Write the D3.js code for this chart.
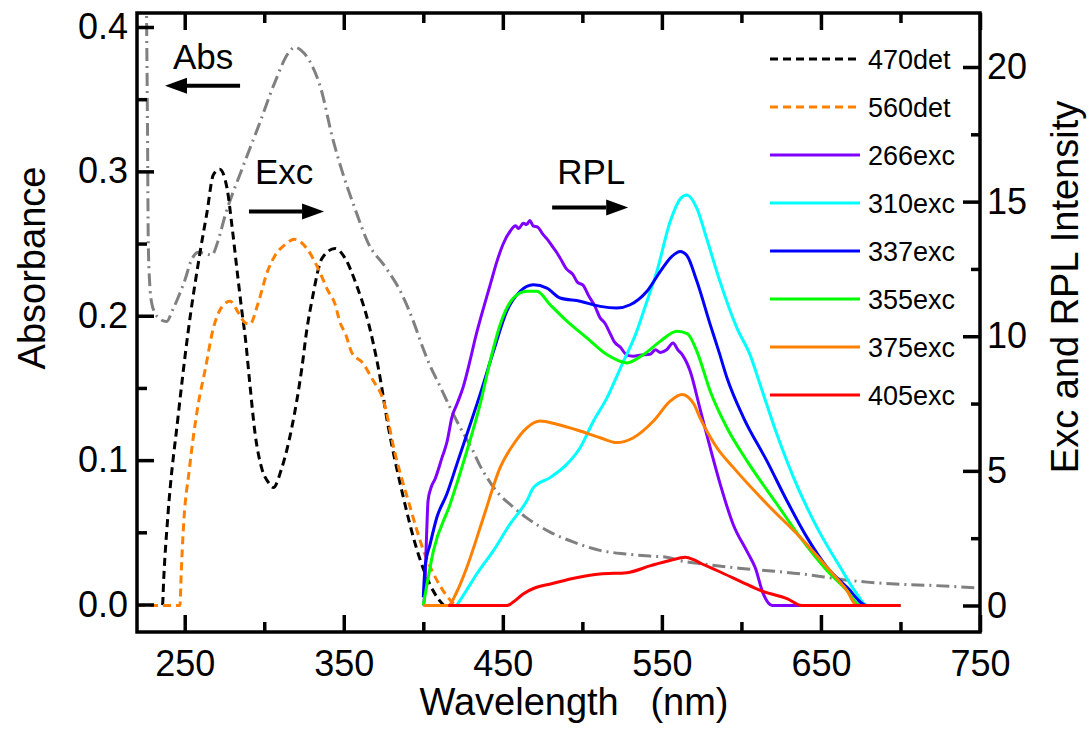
<!DOCTYPE html>
<html>
<head>
<meta charset="utf-8">
<script src="https://cdn.jsdelivr.net/npm/d3@7/dist/d3.min.js"></script>
<style>
	body { margin: 0; background: #fff; }
	svg text { font-family: "Liberation Sans", Arial, Helvetica, sans-serif; fill: #000; }
</style>
</head>
<body>
<div id="chart"></div>
<script>
// axis ticks
const wlMajor = [250, 350, 450, 550, 650, 750];
const wlMinor = [300, 400, 500, 600, 700];
const absMajor = [0, 0.1, 0.2, 0.3, 0.4];
const absMinor = [0.05, 0.15, 0.25, 0.35];
const intMajor = [0, 5, 10, 15, 20];
const intMinor = [2.5, 7.5, 12.5, 17.5];

// absorbance (left axis) [wavelength nm, absorbance]
const absorbance = [
	[225.9,0.42],[226.6,0.33],[227.1,0.25],[228,0.222],[229.2,0.209],[231.3,0.202],[234,0.198],[238.7,0.196],
	[242,0.203],[246,0.213],[250.2,0.225],[254,0.238],[258.6,0.244],[263,0.243],[267,0.242],[271,0.252],
	[275.3,0.269],[285.8,0.301],[296.3,0.331],[306.8,0.362],[315.2,0.382],[319.4,0.386],[323,0.384],
	[327.7,0.378],[336.2,0.355],[342.5,0.325],[348.7,0.301],[357.1,0.274],[365.5,0.25],[376,0.234],
	[386.5,0.215],[394.8,0.193],[398,0.183],[404,0.166],[410.6,0.151],[417,0.136],[423,0.123],[431,0.107],
	[435.7,0.096],[440,0.088],[446.4,0.078],[456,0.068],[465,0.06],[480,0.05],[495,0.043],[511,0.0375],
	[527,0.035],[543,0.0335],[553,0.0328],[563,0.030],[574,0.0283],[600,0.025],[637,0.0213],[668,0.0167],
	[679,0.0155],[700,0.014],[720,0.0132],[750,0.0114]
];

// excitation spectra (right axis) [wavelength nm, intensity]
const det470 = [
	[220,0],[236,0],[236.8,1.0],[239.5,3.4],[245.8,7.0],[252,10.1],[259.6,13.1],[264,14.6],[268,16.0],
	[272,16.2],[276.6,15.5],[279.7,14.1],[283,12.4],[286,10.9],[288,10.0],[291,8.2],[294.2,6.4],[298.4,5.1],
	[302.6,4.57],[305.7,4.38],[311,5.1],[317.3,6.6],[323.6,8.8],[326.9,10.3],[329.9,11.3],[336.4,12.9],
	[344.5,13.26],[350.8,12.9],[358,11.9],[365.5,10.5],[371.8,8.8],[378.1,6.6],[386.5,4.26],[396.9,1.9],
	[404,0.8],[410,0.2],[413,0]
];
const det560 = [
	[220,0],[247,0],[247.8,1.2],[249,2.7],[253,5.1],[258,7.3],[263,8.8],[268,10.3],[273.5,11.1],[278.5,11.3],
	[283.5,10.9],[288,10.5],[291,10.45],[296,11.2],[302,12.4],[306.8,13.0],[313,13.4],[319,13.6],[327.5,13.2],
	[334,12.5],[340,11.7],[344.5,11.2],[347.7,10.5],[351,10.1],[355,9.4],[362,9.0],[368,8.4],[375,7.6],
	[382,5.7],[390.5,3.9],[401,1.9],[408,1.0],[413.7,0.44],[420,0]
];

// RPL emission spectra (right axis) [wavelength nm, intensity]
const exc266 = [
	[400,0],[400.8,0.4],[402,2.5],[403,3.9],[405,4.4],[407.4,4.7],[411.8,5.5],[415,6.1],[418,7.0],[421.3,7.5],
	[425,8.1],[429.4,9.1],[433,10.0],[437.6,11.0],[442,11.9],[446.4,12.8],[450,13.4],[454.6,13.9],[458,14.1],
	[460,14.0],[462.8,14.2],[465,14.15],[467,14.3],[469,14.1],[472,14.05],[475,13.8],[478,13.6],[481.6,13.3],
	[484,13.1],[487,12.8],[490,12.5],[494,12.3],[497,12.0],[500.4,11.9],[504,11.5],[508,11.1],[511,10.7],
	[514,10.5],[517.5,10.1],[520,9.8],[523.8,9.6],[528,9.3],[532,9.26],[537,9.3],[542.6,9.33],[546,9.5],
	[549,9.4],[553,9.5],[557,9.75],[560,9.5],[563,9.3],[567.8,8.7],[574,7.3],[580.4,5.85],[586.7,4.5],
	[594.9,3.0],[603.6,2.0],[608.7,1.4],[613.7,0.44],[619.4,0],[700,0]
];
const exc310 = [
	[421,0],[427,0.55],[433.6,1.17],[444.1,2.04],[454.6,3.03],[465.1,3.89],[469.3,4.38],[479.7,4.75],
	[490.3,5.25],[498.6,5.86],[507,6.85],[515.4,7.7],[523.8,8.8],[534.3,10.2],[540.6,11.3],[546.8,12.4],
	[555.2,14.26],[561.5,15.1],[565.7,15.25],[572,14.75],[578.3,13.6],[586.7,12.0],[597.2,10.3],[605.5,9.3],
	[611.8,8.2],[622.3,6.36],[632.8,4.75],[647.5,2.9],[662.1,1.42],[672.6,0.43],[678.9,0],[700,0]
];
const exc337 = [
	[400,0.3],[401.1,1.42],[404.3,2.28],[408.5,3.27],[414.8,4.14],[421.1,5.25],[427.4,6.36],[435.7,7.84],
	[444.1,9.44],[452.5,10.93],[460.9,11.67],[469.2,11.91],[477.7,11.79],[486,11.42],[498.6,11.3],
	[511.2,11.11],[521.7,11.05],[530.1,11.17],[540.6,11.67],[548.9,12.4],[556,12.95],[561.5,13.15],
	[565.7,13.0],[572,12.04],[580.4,10.43],[586,9.4],[590.9,8.46],[601.3,6.98],[616,5.37],[628.6,3.89],
	[641.2,2.53],[653.8,1.42],[666.3,0.68],[678.9,0],[700,0]
];
const exc355 = [
	[400,0],[406.4,2.04],[416.9,3.77],[427.4,5.74],[435.7,7.47],[442,9.07],[448.3,10.43],[456.7,11.42],
	[465.1,11.67],[471.4,11.67],[479.7,11.17],[490.3,10.56],[502.8,9.94],[515.4,9.32],[528,9.01],[538.4,9.32],
	[548.9,9.81],[559.4,10.19],[566,10.1],[572,9.44],[580.4,7.96],[590.9,6.6],[603.5,5.37],[622.3,3.77],
	[637,2.53],[653.8,1.3],[666.3,0.56],[674.7,0],[700,0]
];
const exc375 = [
	[400,0],[415.7,0],[421,0.5],[427.4,1.42],[437.8,3.27],[448.3,5.12],[456.7,5.99],[465.1,6.6],[473.5,6.85],
	[484,6.73],[498.6,6.48],[511.2,6.23],[521.7,6.05],[532.1,6.23],[544.7,6.85],[555.2,7.59],[562.6,7.84],
	[569.9,7.5],[574,6.97],[584.6,5.86],[595,5.12],[616,3.77],[637,2.53],[653.8,1.42],[666.3,0.56],
	[672.6,0],[700,0]
];
const exc405 = [
	[415.7,0],[452.7,0],[457,0.15],[463,0.44],[470,0.65],[480,0.8],[497,1.04],[511,1.17],[528,1.22],
	[543,1.48],[555,1.67],[564.7,1.79],[570,1.7],[575,1.55],[584.6,1.3],[600,0.88],[611.8,0.56],[629,0.25],
	[638,0],[700,0]
];

const seriesNames = ["470det", "560det", "266exc", "310exc", "337exc", "355exc", "375exc", "405exc"];
const seriesData = [det470, det560, exc266, exc310, exc337, exc355, exc375, exc405];

const seriesStyle = {
	"470det": { color: "#000000", dash: "8,5" },
	"560det": { color: "#ff8000", dash: "8,5" },
	"266exc": { color: "#8000ff", dash: null },
	"310exc": { color: "#00ffff", dash: null },
	"337exc": { color: "#0000ff", dash: null },
	"355exc": { color: "#00ff00", dash: null },
	"375exc": { color: "#ff8000", dash: null },
	"405exc": { color: "#ff0000", dash: null }
};

class SpectraChart {
	constructor(id) {
		this.w = 1090;
		this.h = 730;
		this.box = { left: 137, right: 980, top: 13, bottom: 632 };

		this.svg = d3.select(id)
			.append("svg")
			.attr("width", this.w)
			.attr("height", this.h);

		this.x = d3.scaleLinear().domain([220, 750]).range([this.box.left, this.box.right]);
		this.yAbs = d3.scaleLinear().domain([0, 0.4]).range([604.5, 27]);
		this.yInt = d3.scaleLinear().domain([0, 20]).range([605.5, 67]);

		this.svg.append("defs")
			.append("clipPath")
			.attr("id", "plot-clip")
			.append("rect")
			.attr("x", this.box.left)
			.attr("y", this.box.top)
			.attr("width", this.box.right - this.box.left)
			.attr("height", this.box.bottom - this.box.top);
	}

	render() {
		this.drawCurves();
		this.drawAxes();
		this.drawLegend();
		this.drawNotes();
	}

	drawCurves() {
		let g = this.svg.append("g").attr("clip-path", "url(#plot-clip)");

		let absLine = d3.line()
			.x((d) => { return this.x(d[0]); })
			.y((d) => { return this.yAbs(d[1]); })
			.curve(d3.curveMonotoneX);

		g.append("path")
			.attr("d", absLine(absorbance))
			.attr("fill", "none")
			.attr("stroke", "#808080")
			.attr("stroke-width", 3)
			.attr("stroke-dasharray", "13,5,2,5");

		let intLine = d3.line()
			.x((d) => { return this.x(d[0]); })
			.y((d) => { return this.yInt(d[1]); })
			.curve(d3.curveMonotoneX);

		g.selectAll("path.spectrum")
			.data(seriesNames)
			.enter()
			.append("path")
			.attr("class", "spectrum")
			.attr("d", (d, i) => { return intLine(seriesData[i]); })
			.attr("fill", "none")
			.attr("stroke", (d) => { return seriesStyle[d].color; })
			.attr("stroke-width", 3)
			.attr("stroke-linejoin", "round")
			.attr("stroke-dasharray", (d) => { return seriesStyle[d].dash; });
	}

	drawAxes() {
		let b = this.box;
		let fontSize = 36;

		// major + minor ticks, all pointing inward
		let addAxis = (axis, tx, ty, major) => {
			let g = this.svg.append("g")
				.attr("transform", "translate(" + tx + "," + ty + ")")
				.call(axis);
			g.select(".domain").remove();
			g.selectAll(".tick line")
				.attr("stroke", "#000")
				.attr("stroke-width", 3.5);
			g.selectAll(".tick text")
				.attr("font-size", major ? fontSize : 0)
				.attr("fill", "#000")
				.style("font-family", "'Liberation Sans', Arial, sans-serif");
			return g;
		};

		addAxis(d3.axisBottom(this.x).tickValues(wlMajor).tickSizeInner(-17).tickSizeOuter(0).tickPadding(18).tickFormat(d3.format("d")), 0, b.bottom, true);
		addAxis(d3.axisBottom(this.x).tickValues(wlMinor).tickSizeInner(-10).tickSizeOuter(0).tickFormat(""), 0, b.bottom, false);
		addAxis(d3.axisTop(this.x).tickValues(wlMajor).tickSizeInner(-17).tickSizeOuter(0).tickFormat(""), 0, b.top, false);
		addAxis(d3.axisTop(this.x).tickValues(wlMinor).tickSizeInner(-10).tickSizeOuter(0).tickFormat(""), 0, b.top, false);

		addAxis(d3.axisLeft(this.yAbs).tickValues(absMajor).tickSizeInner(-17).tickSizeOuter(0).tickPadding(9).tickFormat(d3.format(".1f")), b.left, 0, true);
		addAxis(d3.axisLeft(this.yAbs).tickValues(absMinor).tickSizeInner(-10).tickSizeOuter(0).tickFormat(""), b.left, 0, false);

		addAxis(d3.axisRight(this.yInt).tickValues(intMajor).tickSizeInner(-17).tickSizeOuter(0).tickPadding(7).tickFormat(d3.format("d")), b.right, 0, true);
		addAxis(d3.axisRight(this.yInt).tickValues(intMinor).tickSizeInner(-9).tickSizeOuter(0).tickFormat(""), b.right, 0, false);

		this.svg.append("rect")
			.attr("x", b.left)
			.attr("y", b.top)
			.attr("width", b.right - b.left)
			.attr("height", b.bottom - b.top)
			.attr("fill", "none")
			.attr("stroke", "#000")
			.attr("stroke-width", 3.5);

		this.svg.append("text")
			.attr("x", 574)
			.attr("y", 715)
			.attr("text-anchor", "middle")
			.attr("font-size", 38)
			.style("white-space", "pre")
			.text("Wavelength   (nm)");

		this.svg.append("text")
			.attr("transform", "translate(45,268) rotate(-90)")
			.attr("text-anchor", "middle")
			.attr("font-size", 38)
			.text("Absorbance");

		this.svg.append("text")
			.attr("transform", "translate(1078,287) rotate(-90)")
			.attr("text-anchor", "middle")
			.attr("font-size", 38)
			.text("Exc and RPL Intensity");
	}

	drawLegend() {
		let rows = this.svg.append("g")
			.selectAll("g")
			.data(seriesNames)
			.enter()
			.append("g")
			.attr("transform", (d, i) => { return "translate(770," + (59 + i * 48) + ")"; });

		rows.append("line")
			.attr("x1", 0)
			.attr("x2", 90)
			.attr("stroke", (d) => { return seriesStyle[d].color; })
			.attr("stroke-width", 3)
			.attr("stroke-dasharray", (d) => { return seriesStyle[d].dash; });

		rows.append("text")
			.attr("x", 98)
			.attr("y", 10)
			.attr("font-size", 27)
			.text((d) => { return d; });
	}

	drawNotes() {
		// label + arrow, placed in wavelength / intensity units
		let notes = [
			{ label: "Abs", tx: 242.6, ty: 19.93, from: 284.8, to: 237.6, ay: 19.3 },
			{ label: "Exc", tx: 294.2, ty: 15.67, from: 290.4, to: 337.6, ay: 14.63 },
			{ label: "RPL", tx: 484.2, ty: 15.67, from: 481, to: 528.8, ay: 14.78 }
		];

		notes.forEach((n) => {
			this.svg.append("text")
				.attr("x", this.x(n.tx))
				.attr("y", this.yInt(n.ty))
				.attr("font-size", 35)
				.text(n.label);

			let x0 = this.x(n.from), x1 = this.x(n.to), y = this.yInt(n.ay);
			let dir = x1 > x0 ? 1 : -1;
			let headLen = 22;

			this.svg.append("line")
				.attr("x1", x0)
				.attr("x2", x1 - dir * headLen)
				.attr("y1", y)
				.attr("y2", y)
				.attr("stroke", "#000")
				.attr("stroke-width", 4);

			this.svg.append("path")
				.attr("d", "M" + x1 + "," + y + "L" + (x1 - dir * headLen) + "," + (y - 8) + "L" + (x1 - dir * headLen) + "," + (y + 8) + "Z")
				.attr("fill", "#000");
		});
	}
}

let chart = new SpectraChart("#chart");
chart.render();
</script>
</body>
</html>
